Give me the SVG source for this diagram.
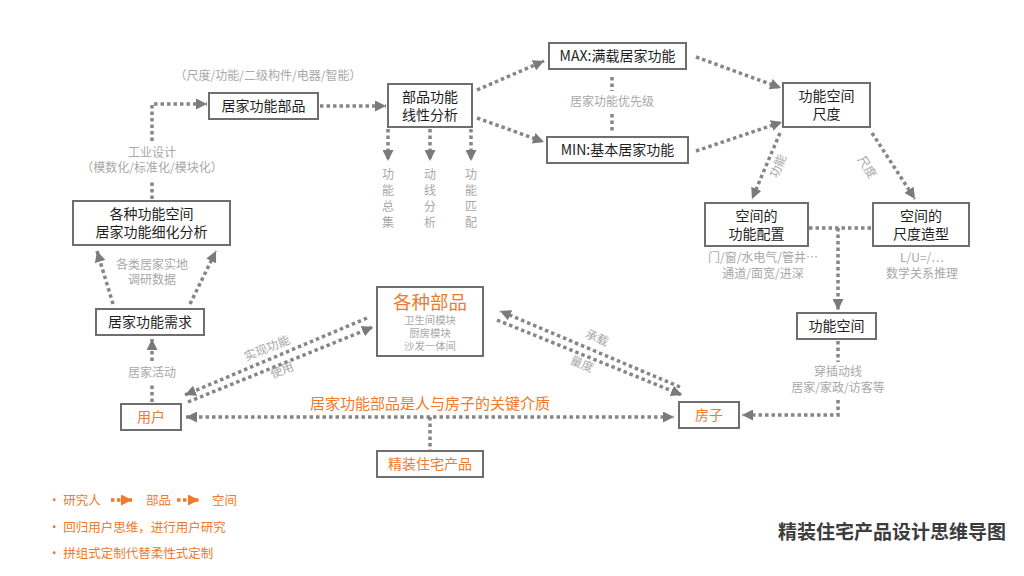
<svg xmlns="http://www.w3.org/2000/svg" width="1024" height="576" viewBox="0 0 1024 576">
<style>
text{font-family:"Noto Sans CJK SC","Noto Sans",sans-serif;}
.box{fill:#fff;stroke:#6e6e6e;stroke-width:2;}
.t{font-size:14px;fill:#1e1e1e;text-anchor:middle;}
.o{fill:#ef7a2b;}
.g{font-size:12px;fill:#a8a8a8;text-anchor:middle;}
.s{font-size:10.4px;fill:#a8a8a8;text-anchor:middle;}
.c{fill:none;stroke:#868686;stroke-width:3.5;stroke-dasharray:3.5 3;}
.ca{marker-end:url(#ah);}
.lg{font-size:12.5px;fill:#ef7a2b;}
</style>
<defs>
<marker id="ah" viewBox="0 0 10 10" refX="10" refY="5" markerWidth="11" markerHeight="11" markerUnits="userSpaceOnUse" orient="auto-start-reverse">
<path d="M0,0 L10,5 L0,10 z" fill="#7a7a7a"/>
</marker>
<marker id="oh" viewBox="0 0 10 10" refX="10" refY="5" markerWidth="11" markerHeight="11" markerUnits="userSpaceOnUse" orient="auto">
<path d="M0,0 L10,5 L0,10 z" fill="#ef7a2b"/>
</marker>
</defs>

<g id="connectors">
<path class="c" d="M152,199 V181"/>
<path class="c ca" d="M152,141 V104 H207"/>
<path class="c ca" d="M320,106 H386"/>
<path class="c ca" d="M477,90 L544,61"/>
<path class="c ca" d="M477,118 L544,142"/>
<path class="c" d="M612,77 V91"/>
<path class="c" d="M612,114 V131"/>
<path class="c ca" d="M388,129 V161"/>
<path class="c ca" d="M430,129 V161"/>
<path class="c ca" d="M471,129 V161"/>
<path class="c ca" d="M696,57 L781,88"/>
<path class="c ca" d="M696,151 L782,122"/>
<path class="c ca" d="M780,133 L752,199"/>
<path class="c ca" d="M872,133 L915,199"/>
<path class="c" d="M809,228 H872"/>
<path class="c ca" d="M838,228 V310"/>
<path class="c" d="M838,341 V362"/>
<path class="c ca" d="M838,400 V415 H742"/>
<path class="c ca" d="M113,304 L97,251"/>
<path class="c ca" d="M190,304 L216,251"/>
<path class="c" d="M152,402 V384"/>
<path class="c ca" d="M152,361 V339"/>
<path class="c ca" d="M367,318 L185,395"/>
<path class="c ca" d="M188,402 L373,327"/>
<path class="c ca" d="M680,387 L500,311"/>
<path class="c ca" d="M497,320 L682,395"/>
<path class="c ca" d="M186,417 H674" marker-start="url(#ah)"/>
<path class="c" d="M430,417 V450"/>
</g>

<g id="connector-labels">
<text class="g" x="268" y="80" font-size="12.5">（尺度/功能/二级构件/电器/智能）</text>
<text class="g"><tspan x="152" y="157">工业设计</tspan><tspan x="152" y="172">（模数化/标准化/模块化）</tspan></text>
<text class="g" x="612" y="106">居家功能优先级</text>
<text class="g"><tspan x="388" y="179">功</tspan><tspan x="388" y="195">能</tspan><tspan x="388" y="211">总</tspan><tspan x="388" y="227">集</tspan></text>
<text class="g"><tspan x="430" y="179">动</tspan><tspan x="430" y="195">线</tspan><tspan x="430" y="211">分</tspan><tspan x="430" y="227">析</tspan></text>
<text class="g"><tspan x="471" y="179">功</tspan><tspan x="471" y="195">能</tspan><tspan x="471" y="211">匹</tspan><tspan x="471" y="227">配</tspan></text>
<text class="g" transform="translate(778,166) rotate(-67)" dy="0.35em">功能</text>
<text class="g" transform="translate(867,167) rotate(57)" dy="0.35em">尺度</text>
<text class="g"><tspan x="763" y="262">门/窗/水电气/管井…</tspan><tspan x="763" y="278">通道/面宽/进深</tspan></text>
<text class="g"><tspan x="922" y="262">L/U=/…</tspan><tspan x="922" y="278">数学关系推理</tspan></text>
<text class="g"><tspan x="838" y="376">穿插动线</tspan><tspan x="838" y="392">居家/家政/访客等</tspan></text>
<text class="g"><tspan x="152" y="269">各类居家实地</tspan><tspan x="152" y="284">调研数据</tspan></text>
<text class="g" x="152" y="377">居家活动</text>
<text class="g" transform="translate(267,348) rotate(-22)" dy="0.35em">实现功能</text>
<text class="g" transform="translate(282,370) rotate(-22)" dy="0.35em">使用</text>
<text class="g" transform="translate(597,338) rotate(23)" dy="0.35em">承载</text>
<text class="g" transform="translate(582,364) rotate(23)" dy="0.35em">量度</text>
<text class="o" x="430" y="409" font-size="15" text-anchor="middle">居家功能部品是人与房子的关键介质</text>
</g>

<g id="node-jujia-bupin">
<rect class="box" x="209" y="93" width="109" height="26"/>
<text class="t" x="263.5" y="111" font-size="14.5">居家功能部品</text>
</g>
<g id="node-bupin-fenxi">
<rect class="box" x="388" y="84" width="84" height="43"/>
<text class="t"><tspan x="430" y="101.5">部品功能</tspan><tspan x="430" y="119.5">线性分析</tspan></text>
</g>
<g id="node-max">
<rect class="box" x="549" y="43" width="137" height="26"/>
<text class="t" x="617.5" y="61" font-size="14.5">MAX:满载居家功能</text>
</g>
<g id="node-min">
<rect class="box" x="547" y="137" width="141" height="26"/>
<text class="t" x="617.5" y="155" font-size="14.5">MIN:基本居家功能</text>
</g>
<g id="node-kongjian-chidu">
<rect class="box" x="783" y="83" width="87" height="44"/>
<text class="t"><tspan x="826.5" y="100.5">功能空间</tspan><tspan x="826.5" y="118.5">尺度</tspan></text>
</g>
<g id="node-gongneng-peizhi">
<rect class="box" x="705" y="203" width="103" height="43"/>
<text class="t"><tspan x="756.5" y="220.5">空间的</tspan><tspan x="756.5" y="238.5">功能配置</tspan></text>
</g>
<g id="node-chidu-zaoxing">
<rect class="box" x="873" y="203" width="96" height="43"/>
<text class="t"><tspan x="921" y="220.5">空间的</tspan><tspan x="921" y="238.5">尺度造型</tspan></text>
</g>
<g id="node-gongneng-kongjian">
<rect class="box" x="797" y="313" width="79" height="26"/>
<text class="t" x="836.5" y="331" font-size="14.5">功能空间</text>
</g>
<g id="node-xihua-fenxi">
<rect class="box" x="73" y="201" width="157" height="44"/>
<text class="t"><tspan x="151.5" y="218.5">各种功能空间</tspan><tspan x="151.5" y="236.5">居家功能细化分析</tspan></text>
</g>
<g id="node-xuqiu">
<rect class="box" x="96" y="309" width="108" height="26"/>
<text class="t" x="150" y="327" font-size="14.5">居家功能需求</text>
</g>
<g id="node-yonghu">
<rect class="box" x="121" y="404" width="60" height="26"/>
<text class="t o" x="151" y="422" font-size="14.5">用户</text>
</g>
<g id="node-gezhong-bupin">
<rect class="box" x="377" y="287" width="106" height="69"/>
<text class="o" x="430" y="309" font-size="18.5" text-anchor="middle">各种部品</text>
<text class="s"><tspan x="430" y="324">卫生间模块</tspan><tspan x="430" y="337">厨房模块</tspan><tspan x="430" y="350">沙发一体间</tspan></text>
</g>
<g id="node-fangzi">
<rect class="box" x="679" y="402" width="60" height="26"/>
<text class="t o" x="709" y="420" font-size="14.5">房子</text>
</g>
<g id="node-jingzhuang">
<rect class="box" x="377" y="451" width="106" height="26"/>
<text class="t o" x="430" y="469" font-size="14.5">精装住宅产品</text>
</g>

<g id="legend">
<text class="lg" x="48" y="505" xml:space="preserve">· 研究人</text>
<path d="M111,500 H132" fill="none" stroke="#ef7a2b" stroke-width="3.5" stroke-dasharray="3.5 2.5" marker-end="url(#oh)"/>
<text class="lg" x="146" y="505">部品</text>
<path d="M177,500 H199" fill="none" stroke="#ef7a2b" stroke-width="3.5" stroke-dasharray="3.5 2.5" marker-end="url(#oh)"/>
<text class="lg" x="212" y="505">空间</text>
<text class="lg" x="48" y="532" xml:space="preserve">· 回归用户思维，进行用户研究</text>
<text class="lg" x="48" y="558" xml:space="preserve">· 拼组式定制代替柔性式定制</text>
</g>

<text id="title" x="892" y="539" font-size="19" font-weight="bold" fill="#3c3c3c" text-anchor="middle">精装住宅产品设计思维导图</text>
</svg>
